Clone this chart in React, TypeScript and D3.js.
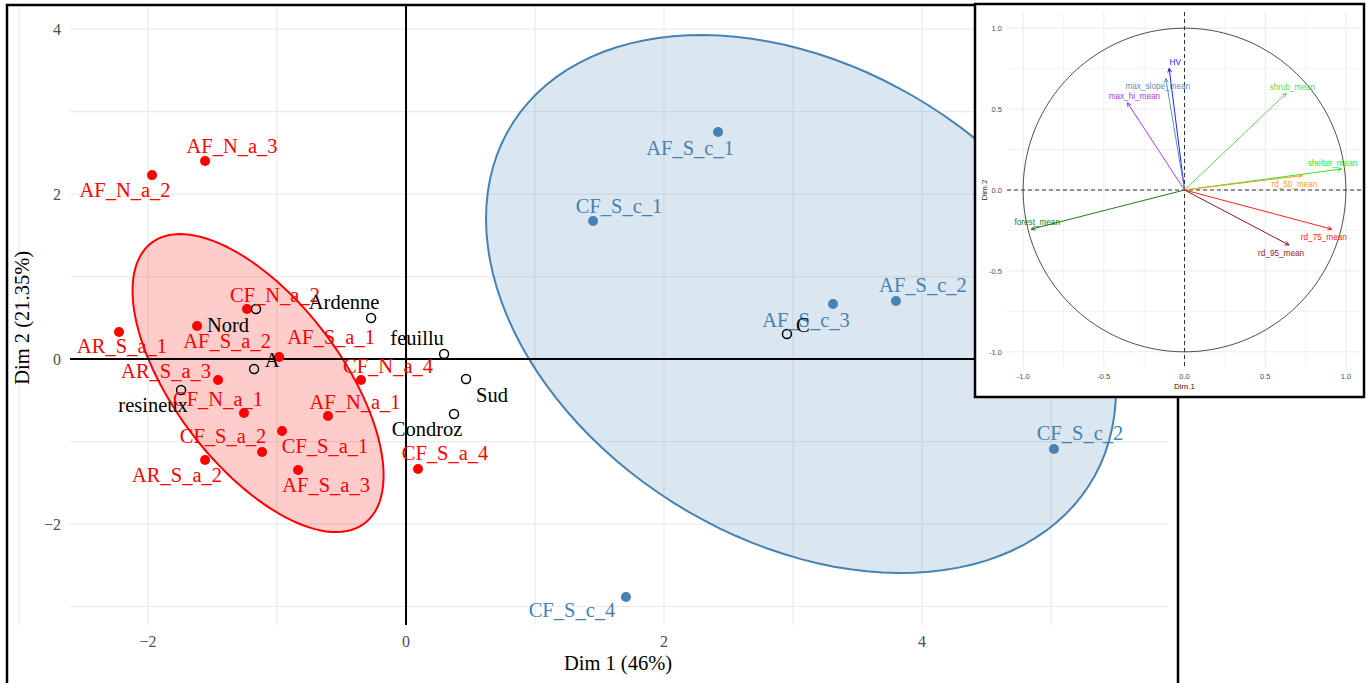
import React from "react";
import * as d3 from "d3";

// individuals (active) : coordinates on Dim 1 / Dim 2
const indNames = [
  "AF_N_a_3", "AF_N_a_2", "CF_N_a_2", "AF_S_a_2", "AR_S_a_1", "AF_S_a_1", "AR_S_a_3", "CF_N_a_1",
  "CF_N_a_4", "AF_N_a_1", "CF_S_a_1", "CF_S_a_2", "AR_S_a_2", "AF_S_a_3", "CF_S_a_4",
  "AF_S_c_1", "CF_S_c_1", "AF_S_c_3", "AF_S_c_2", "CF_S_c_2", "CF_S_c_4",
];
const indDim1 = [
  -1.558, -1.969, -1.233, -1.62, -2.225, -0.984, -1.457, -1.256,
  -0.349, -0.605, -0.961, -1.116, -1.558, -0.837, 0.093,
  2.419, 1.45, 3.31, 3.798, 5.023, 1.705,
];
const indDim2 = [
  2.4, 2.23, 0.606, 0.4, 0.327, 0.024, -0.255, -0.655,
  -0.255, -0.69, -0.873, -1.127, -1.224, -1.345, -1.333,
  2.752, 1.673, 0.667, 0.703, -1.091, -2.885,
];
const indGroup = [
  "a", "a", "a", "a", "a", "a", "a", "a", "a", "a", "a", "a", "a", "a", "a",
  "c", "c", "c", "c", "c", "c",
];

// supplementary categories
const supNames = ["Nord", "Ardenne", "feuillu", "A", "Sud", "resineux", "Condroz", "C"];
const supDim1 = [-1.163, -0.271, 0.295, -1.178, 0.465, -1.744, 0.372, 2.953];
const supDim2 = [0.606, 0.497, 0.061, -0.121, -0.242, -0.376, -0.667, 0.303];

// concentration ellipses per group : centre and shape matrix
const ellGroups = ["a", "c"];
const ellCx = [-1.147, 3.062];
const ellCy = [-0.291, 0.667];
const ellSxx = [0.947, 5.963];
const ellSxy = [-1.09, -2.528];
const ellSyy = [3.262, 10.634];

// variables (correlation circle)
const varNames = ["HV", "max_slope_mean", "max_hi_mean", "shrub_mean", "shelter_mean", "rd_50_mean", "forest_mean", "rd_75_mean", "rd_95_mean"];
const varDim1 = [-0.095, -0.116, -0.354, 0.631, 0.973, 0.731, -0.95, 0.913, 0.648];
const varDim2 = [0.752, 0.689, 0.54, 0.598, 0.13, 0.089, -0.242, -0.242, -0.34];

const mainTicks = [-2, 0, 2, 4];
const mainGrid = [-3, -2, -1, 0, 1, 2, 3, 4, 5];
const insetTicks = [-1, -0.5, 0, 0.5, 1];
const insetGrid = [-1, -0.75, -0.5, -0.25, 0, 0.25, 0.5, 0.75, 1];

const groupColor = { a: "#FF0000", c: "#4682B4" };
const varColor = {
  HV: "#2020ff",
  max_slope_mean: "#5a8fc4",
  max_hi_mean: "#a040f0",
  shrub_mean: "#5ed35e",
  shelter_mean: "#22ee22",
  rd_50_mean: "#ff9a1a",
  forest_mean: "#1b7a1b",
  rd_75_mean: "#ff2020",
  rd_95_mean: "#8b1a1a",
};

// label nudges (px) : [dx, baseline dy]
const nudge = {
  AF_N_a_3: [27, -8], AF_N_a_2: [-27, 22], CF_N_a_2: [28, -7], AF_S_a_2: [30, 22],
  AR_S_a_1: [3, 21], AF_S_a_1: [52, -13], AR_S_a_3: [-52, -2], CF_N_a_1: [-26, -7],
  CF_N_a_4: [27, -7], AF_N_a_1: [27, -7], CF_S_a_1: [43, 22], CF_S_a_2: [-39, -9],
  AR_S_a_2: [-28, 22], AF_S_a_3: [28, 22], CF_S_a_4: [27, -9],
  AF_S_c_1: [-28, 23], CF_S_c_1: [26, -8], AF_S_c_3: [-27, 23], AF_S_c_2: [27, -9],
  CF_S_c_2: [26, -9], CF_S_c_4: [-54, 20],
  Nord: [-28, 23], Ardenne: [-27, -9], feuillu: [-27, -9], A: [18, -2], Sud: [26, 23],
  resineux: [-28, 22], Condroz: [-27, 22], C: [16, -2],
};
const varNudge = {
  HV: [6, -6], max_slope_mean: [-8, 8], max_hi_mean: [7, -6], shrub_mean: [6, -6],
  shelter_mean: [-9, -5], rd_50_mean: [-8, 9], forest_mean: [6, -7], rd_75_mean: [-8, 8],
  rd_95_mean: [-8, 8],
};

const W = 1369;
const H = 683;
const serif = "'Liberation Serif', 'Times New Roman', serif";
const sans = "'Liberation Sans', Arial, sans-serif";
const fmtMain = (v) => (v < 0 ? "\u2212" + Math.abs(v) : String(v));

export default function App() {
  const x = d3.scaleLinear().domain([-2.605, 5.907]).range([70, 1168]);
  const y = d3.scaleLinear().domain([-3.224, 4.28]).range([625, 6]);

  const ix = d3.scaleLinear().domain([-1.1, 1.1]).range([1007, 1362]);
  const iy = d3.scaleLinear().domain([-1.1, 1.1]).range([368, 12]);

  const ellPath = (i) => {
    const l11 = Math.sqrt(ellSxx[i]);
    const l21 = ellSxy[i] / l11;
    const l22 = Math.sqrt(ellSyy[i] - l21 * l21);
    const ts = d3.range(0, 120).map((k) => (k / 120) * 2 * Math.PI);
    const line = d3
      .line()
      .x((t) => x(ellCx[i] + l11 * Math.cos(t)))
      .y((t) => y(ellCy[i] + l21 * Math.cos(t) + l22 * Math.sin(t)))
      .curve(d3.curveLinearClosed);
    return line(ts);
  };

  const circle = d3
    .line()
    .x((t) => ix(Math.cos(t)))
    .y((t) => iy(Math.sin(t)))
    .curve(d3.curveLinearClosed)(d3.range(0, 180).map((k) => (k / 180) * 2 * Math.PI));

  const arrowHead = (x2, y2, angle) => {
    const len = 4.5;
    const a1 = angle + Math.PI - 0.45;
    const a2 = angle + Math.PI + 0.45;
    return `M${x2 + len * Math.cos(a1)},${y2 + len * Math.sin(a1)}L${x2},${y2}L${x2 + len * Math.cos(a2)},${y2 + len * Math.sin(a2)}`;
  };

  return (
    <svg width={W} height={H} style={{ position: "absolute", left: 0, top: 0, display: "block", background: "#fff" }}>
      {/* main panel grid */}
      <g stroke="#ebebeb" strokeWidth={1.2}>
        {mainGrid.map((v) => (
          <line key={"gx" + v} x1={x(v)} x2={x(v)} y1={6} y2={625} />
        ))}
        {mainGrid.filter((v) => v >= -3 && v <= 4).map((v) => (
          <line key={"gy" + v} x1={70} x2={1168} y1={y(v)} y2={y(v)} />
        ))}
      </g>

      {/* ellipses */}
      {ellGroups.map((g, i) => (
        <path key={g} d={ellPath(i)} fill={groupColor[g]} fillOpacity={0.2} stroke={groupColor[g]} strokeWidth={2} />
      ))}

      {/* axes at origin */}
      <line x1={70} x2={1168} y1={y(0)} y2={y(0)} stroke="#000" strokeWidth={2} />
      <line x1={x(0)} x2={x(0)} y1={6} y2={625} stroke="#000" strokeWidth={2} />

      {/* tick labels */}
      <g fontFamily={serif} fontSize={16} fill="#4d4d4d">
        {mainTicks.map((v) => (
          <text key={"tx" + v} x={x(v)} y={647} textAnchor="middle">
            {fmtMain(v)}
          </text>
        ))}
        {mainTicks.map((v) => (
          <text key={"ty" + v} x={61} y={y(v) + 5.5} textAnchor="end">
            {fmtMain(v)}
          </text>
        ))}
      </g>
      <text x={618} y={670} textAnchor="middle" fontFamily={serif} fontSize={20.5} fill="#000">
        Dim 1 (46%)
      </text>
      <text transform={`translate(29,${y(0.5)}) rotate(-90)`} textAnchor="middle" fontFamily={serif} fontSize={20.5} fill="#000">
        Dim 2 (21.35%)
      </text>

      {/* individuals */}
      {indNames.map((n, i) => (
        <circle key={"p" + n} cx={x(indDim1[i])} cy={y(indDim2[i])} r={5} fill={groupColor[indGroup[i]]} />
      ))}
      {supNames.map((n, i) => (
        <circle key={"s" + n} cx={x(supDim1[i])} cy={y(supDim2[i])} r={4.5} fill="none" stroke="#000" strokeWidth={1.5} />
      ))}
      <g fontFamily={serif} fontSize={20.5} textAnchor="middle">
        {indNames.map((n, i) => (
          <text key={"l" + n} x={x(indDim1[i]) + nudge[n][0]} y={y(indDim2[i]) + nudge[n][1]} fill={groupColor[indGroup[i]]}>
            {n}
          </text>
        ))}
        {supNames.map((n, i) => (
          <text key={"ls" + n} x={x(supDim1[i]) + nudge[n][0]} y={y(supDim2[i]) + nudge[n][1]} fill="#000">
            {n}
          </text>
        ))}
      </g>

      {/* outer frame */}
      <rect x={7} y={5} width={1171} height={700} fill="none" stroke="#000" strokeWidth={2.5} />

      {/* inset: variables correlation circle */}
      <rect x={975} y={4} width={389} height={393} fill="#fff" stroke="#000" strokeWidth={2.5} />
      <g>
        {insetGrid.map((v) => (
          <line key={"igx" + v} x1={ix(v)} x2={ix(v)} y1={12} y2={368} stroke="#ebebeb" strokeWidth={v * 2 === Math.round(v * 2) ? 1 : 0.6} />
        ))}
        {insetGrid.map((v) => (
          <line key={"igy" + v} x1={1007} x2={1362} y1={iy(v)} y2={iy(v)} stroke="#ebebeb" strokeWidth={v * 2 === Math.round(v * 2) ? 1 : 0.6} />
        ))}
      </g>
      <path d={circle} fill="none" stroke="#222" strokeWidth={0.8} />
      <line x1={ix(0)} x2={ix(0)} y1={12} y2={368} stroke="#333" strokeWidth={1} strokeDasharray="4,3" />
      <line x1={1007} x2={1362} y1={iy(0)} y2={iy(0)} stroke="#333" strokeWidth={1} strokeDasharray="4,3" />
      {varNames.map((n, i) => {
        const x2 = ix(varDim1[i]);
        const y2 = iy(varDim2[i]);
        const ang = Math.atan2(y2 - iy(0), x2 - ix(0));
        return (
          <g key={"v" + n} stroke={varColor[n]} strokeWidth={1} fill="none">
            <line x1={ix(0)} y1={iy(0)} x2={x2} y2={y2} />
            <path d={arrowHead(x2, y2, ang)} />
          </g>
        );
      })}
      <g fontFamily={sans} fontSize={8.2} textAnchor="middle" dominantBaseline="central">
        {varNames.map((n, i) => (
          <text key={"vl" + n} x={ix(varDim1[i]) + varNudge[n][0]} y={iy(varDim2[i]) + varNudge[n][1]} fill={varColor[n]}>
            {n}
          </text>
        ))}
      </g>
      <g fontFamily={sans} fontSize={7.5} fill="#4d4d4d">
        {insetTicks.map((v) => (
          <text key={"itx" + v} x={ix(v)} y={379} textAnchor="middle">
            {v.toFixed(1)}
          </text>
        ))}
        {insetTicks.map((v) => (
          <text key={"ity" + v} x={1002} y={iy(v) + 2.7} textAnchor="end">
            {v.toFixed(1)}
          </text>
        ))}
      </g>
      <text x={ix(0)} y={389} textAnchor="middle" fontFamily={sans} fontSize={8} fill="#222">
        Dim.1
      </text>
      <text transform={`translate(987,${iy(0)}) rotate(-90)`} textAnchor="middle" fontFamily={sans} fontSize={8} fill="#222">
        Dim.2
      </text>
    </svg>
  );
}
